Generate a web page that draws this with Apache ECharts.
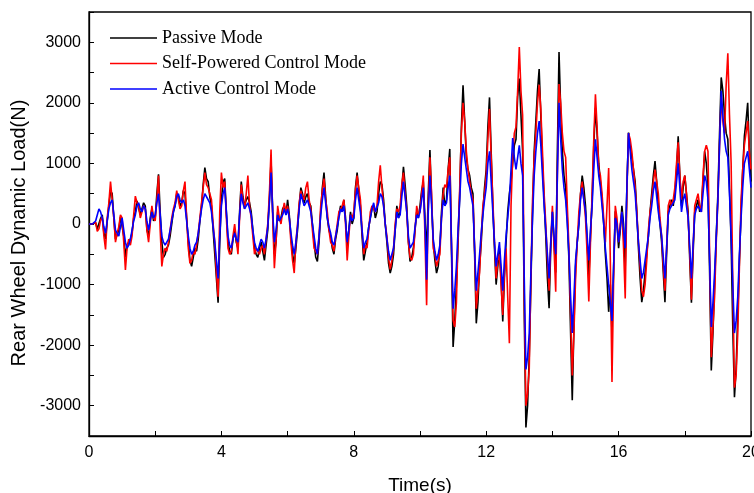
<!DOCTYPE html>
<html>
<head>
<meta charset="utf-8">
<script src="https://cdn.jsdelivr.net/npm/echarts@6/dist/echarts.min.js"></script>
<style>
  html, body { margin: 0; padding: 0; background: #fff; }
  #chart { width: 754px; height: 493px; }
</style>
</head>
<body>
<div id="chart"></div>
<script>
// 采样间隔 0.05 s，0 ~ 20 s（每行 1 s）
var step = 0.05;

// Passive Mode (black)
var passive = [
  0, 0, 0, 10, 20, -80, -60, 90, 150, -150, -250, 50, 300, 550, 500, 100, -250, -180, -100, 120,
  150, -200, -550, -350, -300, -250, -150, 100, 200, 380, 400, 150, 150, 350, 300, -100, -200, 100, 250, 50,
  100, 500, 820, 200, -300, -550, -500, -400, -350, -200, 0, 200, 300, 500, 450, 300, 350, 550, 500, 100,
  -300, -600, -700, -550, -400, -450, -250, 50, 300, 650, 930, 750, 700, 450, 300, -100, -500, -900, -1300, -300,
  400, 700, 750, 200, -300, -450, -500, -250, -100, -300, -400, 200, 700, 450, 300, 400, 450, 350, 200, -100,
  -400, -500, -550, -400, -300, -450, -600, -350, -100, 400, 1050, 200, -500, -300, 200, 50, 100, 250, 300, 150,
  400, 150, -200, -500, -650, -400, -100, 300, 600, 500, 350, 450, 500, 350, 300, 0, -300, -550, -620, -300,
  200, 600, 850, 450, 100, -100, -200, -400, -500, -250, -100, 150, 300, 200, 400, 100, -400, -100, 200, 0,
  100, 600, 850, 550, 300, -200, -600, -450, -300, -50, 100, 250, 300, 100, 200, 500, 700, 650, 400, 0,
  -300, -650, -810, -700, -500, -100, 300, 100, 200, 600, 945, 650, 300, -300, -620, -550, -400, -100, 200, 100,
  300, 550, 700, 100, -500, 500, 1220, 400, -300, -600, -810, -700, -400, 200, 600, 300, 400, 900, 1240, -400,
  -2030, -1600, -1000, -300, 500, 1600, 2290, 1700, 1100, 900, 800, 600, 500, -500, -1640, -1300, -700, -300, 200, 600,
  900, 1600, 2090, 1200, 300, -400, -1000, -700, -400, -900, -1610, -900, -300, 200, 500, 700, 1000, 1300, 1400, 2100,
  2400, 1800, 1200, -1500, -3360, -3000, -2200, -1000, 200, 1200, 1700, 2200, 2560, 1800, 1000, 400, -200, -900, -1390, -400,
  200, -300, -800, 1200, 2840, 1900, 1200, 800, 600, 100, -600, -1800, -2910, -1700, -700, -300, 0, 500, 800, 600,
  300, -300, -900, -200, 400, 1300, 1920, 1500, 1000, 700, 400, 0, -500, -900, -1450, -1000, -1800, -700, 210, 0,
  -400, -100, 300, 0, -700, 600, 1510, 1300, 1100, 900, 700, 200, -400, -900, -1290, -1100, -800, -500, -200, 200,
  500, 800, 1040, 700, 300, 0, -300, -800, -1290, -500, 200, 300, 400, 300, 500, 900, 1450, 800, 300, 600,
  800, 500, 200, -600, -1300, -500, 200, 300, 400, 200, 300, 700, 1200, 1000, 600, -800, -2420, -1800, -1000, -200,
  500, 1500, 2420, 2200, 1800, 1500, 1400, 600, -300, -1700, -2860, -2400, -1500, -600, 200, 900, 1450, 1700, 2000, 1200,
  700
];

// Self-Powered Control Mode (red)
var selfPowered = [
  0, 0, 0, 20, 30, -120, -80, 60, 120, -200, -420, 100, 350, 700, 680, 100, -300, -150, -50, 150,
  100, -300, -760, -400, -250, -350, -200, 150, 460, 350, 300, 100, 200, 300, 250, -100, -300, 0, 300, 100,
  50, 400, 800, -100, -700, -500, -400, -450, -300, -100, 100, 250, 350, 550, 400, 250, 300, 550, 700, 100,
  -400, -650, -600, -450, -500, -350, -150, 100, 350, 600, 850, 650, 600, 500, 400, 0, -300, -800, -1200, 200,
  850, 600, 700, 100, -400, -500, -450, -200, 0, -250, -500, 100, 650, 400, 250, 500, 800, 300, 100, -200,
  -500, -400, -450, -500, -400, -350, -500, -250, 0, 500, 1230, 100, -730, -300, 300, 100, 0, 200, 350, 200,
  300, 100, -300, -600, -810, -300, 0, 350, 550, 450, 400, 600, 700, 400, 250, -100, -400, -450, -500, -200,
  300, 550, 750, 400, 200, -100, -300, -350, -450, -200, 0, 200, 250, 300, 400, 0, -600, -200, 150, 100,
  200, 550, 800, 600, 400, -100, -500, -350, -400, -100, 200, 300, 250, 200, 300, 700, 970, 600, 300, 0,
  -200, -550, -750, -600, -400, 0, 250, 200, 300, 650, 850, 500, 200, -300, -550, -600, -500, -100, 300, 150,
  200, 500, 800, -200, -1340, 300, 1100, 500, -400, -500, -700, -600, -500, 100, 500, 650, 600, 900, 1100, -300,
  -1590, -1700, -1300, -200, 600, 1500, 2000, 1700, 1200, 900, 700, 500, 400, -400, -1400, -1100, -800, -200, 300, 500,
  800, 1400, 1900, 1100, 400, -300, -900, -600, -500, -1000, -1500, -800, -400, -1200, -1970, 300, 1100, 1500, 1600, 2200,
  2920, 2200, 1800, -1200, -3000, -2800, -2400, -900, 400, 1100, 1500, 2000, 2300, 1900, 1200, 500, 0, -600, -1100, -300,
  300, -400, -1120, 800, 2310, 2000, 1500, 1200, 1100, 300, -400, -1500, -2500, -1800, -900, -300, 200, 500, 700, 400,
  100, -500, -1280, -300, 500, 1400, 2140, 1600, 900, 800, 500, 100, -300, 300, 925, -600, -2610, -900, 300, 100,
  -300, 0, 200, -400, -1230, 500, 1500, 1400, 1200, 900, 600, 200, -300, -700, -1100, -1200, -1000, -600, -100, 200,
  400, 700, 900, 700, 500, 100, -200, -700, -1100, -400, 300, 400, 300, 400, 600, 1000, 1350, 800, 400, 700,
  800, 500, 100, -500, -1250, -400, 300, 400, 500, 300, 200, 800, 1200, 1300, 1200, -500, -2200, -1700, -1200, -300,
  400, 1300, 2100, 1700, 1500, 2300, 2820, 1800, 1000, -1000, -2700, -2500, -1800, -700, 400, 900, 1300, 1500, 1700, 1200,
  900
];

// Active Control Mode (blue)
var active = [
  0, 0, 0, 30, 50, 150, 250, 200, 100, -50, -150, 50, 250, 350, 400, 150, -100, -150, -200, -50,
  100, -100, -300, -400, -350, -250, -100, 50, 150, 300, 350, 250, 200, 300, 250, 50, -100, 50, 200, 100,
  150, 350, 500, 150, -200, -300, -350, -300, -250, -100, 50, 200, 300, 450, 500, 400, 350, 400, 300, 50,
  -200, -400, -500, -450, -350, -300, -150, 50, 250, 400, 500, 450, 450, 350, 200, -50, -300, -600, -900, -200,
  300, 500, 600, 200, -200, -350, -400, -250, -150, -250, -300, 150, 500, 350, 250, 300, 350, 250, 150, -100,
  -300, -400, -450, -350, -250, -300, -400, -250, -50, 350, 850, 200, -300, -100, 150, 50, 50, 150, 250, 150,
  250, 100, -150, -350, -500, -300, -50, 250, 500, 400, 300, 350, 400, 300, 200, 0, -200, -400, -500, -200,
  150, 400, 600, 350, 100, -50, -150, -300, -350, -200, -50, 100, 250, 200, 300, 50, -300, -100, 150, 50,
  100, 400, 600, 400, 200, -100, -400, -300, -250, -50, 100, 250, 350, 200, 200, 350, 500, 450, 300, 0,
  -250, -450, -600, -500, -400, -100, 200, 100, 150, 450, 700, 450, 200, -200, -400, -350, -300, -50, 150, 100,
  200, 400, 600, 0, -920, 200, 800, 300, -250, -450, -600, -500, -350, 100, 400, 300, 350, 600, 800, -300,
  -1400, -1100, -700, -100, 400, 1000, 1320, 1100, 900, 700, 600, 450, 300, -400, -1100, -800, -500, -150, 150, 400,
  600, 1000, 1200, 700, 200, -300, -700, -500, -300, -700, -1100, -600, -200, 100, 400, 900, 1420, 1100, 900, 1100,
  1300, 1000, 800, -900, -2400, -2200, -1800, -800, 100, 800, 1200, 1500, 1700, 1300, 800, 300, -100, -500, -900, -300,
  200, -200, -500, 800, 2000, 1400, 900, 600, 400, 0, -500, -1200, -1800, -1200, -600, -300, 0, 400, 600, 400,
  200, -200, -600, -100, 300, 900, 1400, 1100, 800, 600, 300, 0, -400, -700, -1000, -1300, -1600, -700, 100, 0,
  -300, -50, 200, -100, -400, 600, 1500, 1200, 900, 700, 500, 100, -300, -600, -900, -800, -600, -400, -200, 100,
  300, 550, 700, 450, 200, 0, -200, -550, -900, -400, 150, 250, 300, 300, 400, 700, 1000, 600, 200, 400,
  500, 300, 100, -400, -900, -350, 150, 250, 300, 250, 200, 500, 800, 700, 400, -600, -1700, -1300, -800, -200,
  400, 1300, 2200, 1800, 1400, 1200, 1100, 500, -200, -1000, -1800, -1600, -1200, -500, 100, 600, 1000, 1100, 1200, 900,
  600
];

var names = ['Passive Mode', 'Self-Powered Control Mode', 'Active Control Mode'];
var colors = ['#000000', '#ff0000', '#0000ff'];

function pairs(arr) {
  var out = [];
  for (var i = 0; i < arr.length; i++) {
    out.push([+(i * step).toFixed(2), arr[i]]);
  }
  return out;
}

var myChart = echarts.init(document.getElementById('chart'));

var labelFont = { fontFamily: 'Liberation Sans', fontSize: 16, color: '#000' };

var option = {
  animation: false,
  backgroundColor: '#fff',
  grid: {
    left: 89, right: 3, top: 12, bottom: 57,
    outerBoundsMode: 'none',
    show: true, borderColor: '#000', borderWidth: 1.3
  },
  legend: {
    data: names,
    orient: 'vertical',
    left: 105,
    top: 24,
    icon: 'rect',
    itemWidth: 47,
    itemHeight: 1.5,
    itemGap: 7.5,
    textStyle: { fontFamily: 'Liberation Serif', fontSize: 18, color: '#000', padding: [0, 0, 0, 0] }
  },
  xAxis: {
    type: 'value',
    min: 0,
    max: 20,
    interval: 2,
    name: 'Time(s)',
    nameLocation: 'middle',
    nameGap: 40,
    nameTextStyle: { fontFamily: 'Liberation Sans', fontSize: 19, color: '#000' },
    axisLine: { onZero: false, lineStyle: { color: '#000', width: 1.3 } },
    axisTick: { inside: true, length: 5, lineStyle: { color: '#000' } },
    splitLine: { show: false },
    axisLabel: Object.assign({
      margin: 9,
      formatter: function (v) { return v % 4 === 0 ? String(v) : ''; }
    }, labelFont)
  },
  yAxis: {
    type: 'value',
    min: -3500,
    max: 3500,
    interval: 500,
    name: 'Rear Wheel Dynamic Load(N)',
    nameLocation: 'middle',
    nameGap: 54,
    nameTextStyle: { fontFamily: 'Liberation Sans', fontSize: 20, color: '#000', padding: [0, 18, 0, 0] },
    axisLine: { show: true, onZero: false, lineStyle: { color: '#000', width: 1.3 } },
    axisTick: { show: true, inside: true, length: 5, lineStyle: { color: '#000' } },
    splitLine: { show: false },
    axisLabel: Object.assign({
      margin: 8,
      formatter: function (v) { return v % 1000 === 0 ? String(v) : ''; }
    }, labelFont)
  },
  series: [passive, selfPowered, active].map(function (arr, k) {
    return {
      name: names[k],
      type: 'line',
      data: pairs(arr),
      showSymbol: false,
      symbol: 'none',
      color: colors[k],
      lineStyle: { width: 1.6, color: colors[k] },
      z: 2 + k
    };
  })
};

myChart.setOption(option);
</script>
</body>
</html>
